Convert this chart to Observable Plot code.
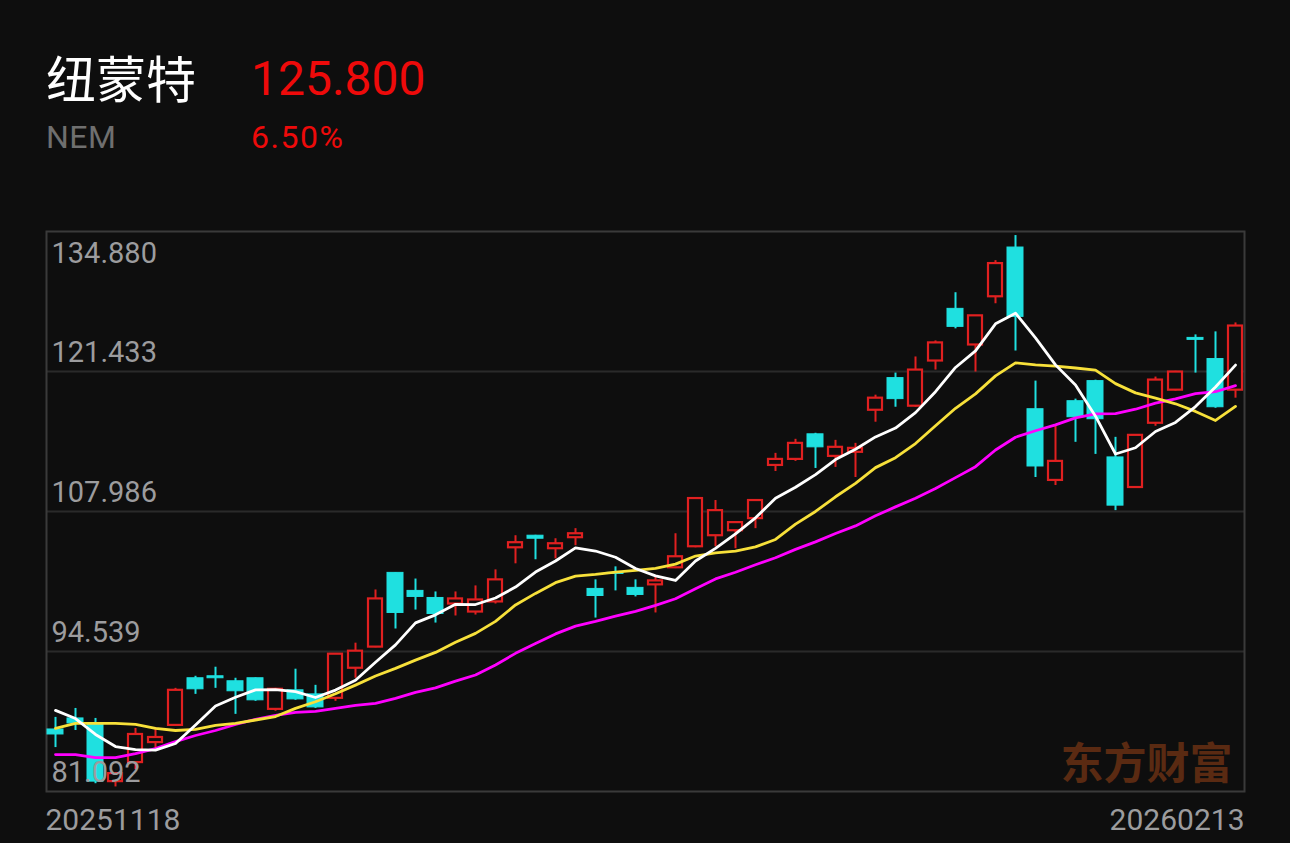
<!DOCTYPE html>
<html><head><meta charset="utf-8">
<script src="https://cdn.jsdelivr.net/npm/d3@7"></script>
<script src="https://cdn.jsdelivr.net/npm/@observablehq/plot@0.6"></script>
<style>
html,body{margin:0;padding:0;background:#0e0e0e;}
#wrap{position:relative;width:1290px;height:843px;overflow:hidden;background:#0e0e0e;font-family:Roboto,"Noto Sans",sans-serif;}
.abs{position:absolute;white-space:nowrap;line-height:1;}
#chart{position:absolute;left:0;top:0;}
</style></head><body>
<div id="wrap">
  <div class="abs" style="left:46px;top:51px;font-size:50px;color:#ffffff;font-family:'Noto Sans CJK SC',sans-serif;">纽蒙特</div>
  <div class="abs" style="left:251px;top:55px;font-size:48px;color:#ee0a0a;">125.800</div>
  <div class="abs" style="left:46px;top:121px;font-size:32px;color:#6f6f6f;letter-spacing:0.5px;">NEM</div>
  <div class="abs" style="left:251px;top:121px;font-size:32px;color:#ee0a0a;letter-spacing:1.5px;">6.50%</div>
  <div id="chart"></div>
</div>
<script>
const dates = ["20251118","20251119","20251120","20251121","20251124","20251125","20251126","20251128",
"20251201","20251202","20251203","20251204","20251205","20251208","20251209","20251210","20251211","20251212",
"20251215","20251216","20251217","20251218","20251219","20251222","20251223","20251224","20251226","20251229","20251230","20251231",
"20260102","20260105","20260106","20260107","20260108","20260109","20260112","20260113","20260114","20260115","20260116",
"20260120","20260121","20260122","20260123","20260126","20260127","20260128","20260129","20260130",
"20260202","20260203","20260204","20260205","20260206","20260209","20260210","20260211","20260212","20260213"];

const opens = [87.05,88.11,87.53,82.04,83.87,85.79,87.44,91.97,92.16,91.68,91.97,88.98,90.81,90.42,90.04,92.93,94.96,102.09,100.36,99.68,
99.10,98.33,99.30,104.50,105.66,104.41,105.47,100.55,102.09,100.65,100.94,102.58,104.60,105.66,106.14,107.30,112.41,112.99,115.40,113.28,
113.67,117.71,120.80,118.10,122.44,127.45,123.98,128.61,133.34,117.81,110.97,118.58,120.51,113.18,110.29,116.46,119.64,124.66,122.63,119.64];
const highs = [88.21,89.07,88.11,82.90,87.15,87.24,91.00,92.16,93.03,91.97,92.00,91.00,92.84,91.29,94.30,95.34,100.45,102.10,101.50,100.26,
100.26,100.84,102.38,105.66,105.70,105.37,106.34,101.42,102.67,101.42,101.71,105.85,109.30,109.04,107.00,109.10,113.57,114.92,115.50,114.82,
114.53,119.16,121.28,122.83,124.37,129.00,126.80,132.08,134.49,120.51,116.17,118.78,120.60,115.11,115.30,120.90,121.45,124.95,125.24,126.10];
const lows = [85.31,86.95,81.84,81.53,83.19,85.22,87.40,90.42,91.00,88.50,89.75,88.80,89.85,89.07,89.75,91.97,94.90,96.70,98.52,97.27,
97.95,98.04,99.10,102.96,103.35,103.44,104.70,97.75,100.36,99.78,98.24,102.50,104.50,104.60,104.41,106.34,111.83,112.80,112.12,112.22,
111.25,116.56,118.00,118.00,121.57,125.53,121.38,127.94,123.40,111.25,110.48,114.63,113.47,108.07,110.20,116.17,119.55,121.28,117.90,118.87];
const closes = [86.57,87.63,82.04,82.81,86.57,86.28,90.81,90.91,91.97,90.72,89.85,90.91,89.94,89.17,94.28,94.57,99.59,98.24,99.78,98.14,
99.59,99.49,101.42,104.99,105.37,104.89,105.85,99.87,101.99,99.97,101.32,103.64,109.23,108.07,106.92,109.04,112.99,114.53,114.15,114.15,
114.05,118.87,118.78,121.57,124.18,125.72,126.78,131.80,126.68,112.31,112.80,117.04,116.85,108.55,115.30,120.61,121.38,124.47,118.00,125.80];

const ma5 = [88.88,88.10,86.57,85.41,85.12,85.07,85.70,87.48,89.31,90.14,90.85,90.87,90.68,90.12,90.83,91.77,93.51,95.17,97.29,98.06,
99.07,99.05,99.68,100.73,102.17,103.23,104.50,104.19,103.59,102.51,101.80,101.36,103.23,104.45,105.84,107.38,109.25,110.31,111.53,112.97,
113.97,115.15,116.00,117.48,119.49,121.82,123.41,126.01,127.03,124.66,122.07,120.13,117.14,113.51,114.11,115.67,116.54,118.06,119.95,122.05];
const ma10 = [87.15,87.63,87.63,87.63,87.53,87.15,86.95,87.05,87.44,87.63,87.96,88.29,89.08,89.71,90.48,91.31,92.19,92.92,93.71,94.45,
95.42,96.28,97.43,99.01,100.12,101.15,101.78,101.94,102.16,102.34,102.52,102.93,103.71,104.02,104.18,104.59,105.30,106.77,107.99,109.40,
110.68,112.20,113.16,114.51,116.23,117.90,119.28,121.01,122.26,122.07,121.95,121.77,121.57,120.27,119.38,118.87,118.33,117.60,116.73,118.08];
const ma20 = [84.64,84.64,84.35,84.35,84.74,85.22,85.89,86.47,86.95,87.53,88.01,88.40,88.69,88.79,89.07,89.36,89.56,90.04,90.62,91.04,
91.69,92.28,93.25,94.36,95.30,96.23,96.98,97.43,97.93,98.40,98.97,99.61,100.57,101.51,102.15,102.87,103.54,104.35,105.07,105.87,
106.60,107.57,108.43,109.26,110.20,111.24,112.29,113.89,115.12,115.74,116.31,116.98,117.36,117.39,117.81,118.39,118.81,119.30,119.49,120.08];

const yTicks = [134.880, 121.433, 107.986, 94.539, 81.092];
const yTickLabels = ["134.880","121.433","107.986","94.539","81.092"];
const gridLines = [121.433, 107.986, 94.539];
const watermark = "东方财富";

const BG = "#0e0e0e", RED = "#e02020", CYAN = "#1fe0e0";

const data = dates.map((d, i) => ({
  i, date: d, open: opens[i], high: highs[i], low: lows[i], close: closes[i],
  ma5: ma5[i], ma10: ma10[i], ma20: ma20[i],
  up: closes[i] >= opens[i]
}));
const upData = data.filter(d => d.up);
const downData = data.filter(d => !d.up);

const chart = Plot.plot({
  width: 1290, height: 843,
  marginTop: 231, marginBottom: 52, marginLeft: 46, marginRight: 46,
  style: {background: "transparent", overflow: "visible"},
  x: {type: "band", domain: d3.range(dates.length), paddingInner: 0.2, paddingOuter: 0, axis: null},
  y: {domain: [yTicks[4], yTicks[0]], axis: null},
  color: {type: "identity"},
  marks: [
    Plot.ruleY(gridLines, {stroke: "#2a2a2a", strokeWidth: 2}),
    Plot.frame({stroke: "#3a3a3a", strokeWidth: 2}),
    Plot.text([watermark], {frameAnchor: "bottom-right", textAnchor: "end", lineAnchor: "bottom", dx: -12, dy: -13,
      fontSize: 43, fontWeight: "bold", fill: "#5a2a12", fontFamily: "'Noto Sans CJK SC', sans-serif"}),
    Plot.ruleX(data, {x: "i", y1: "low", y2: "high", stroke: d => d.up ? RED : CYAN, strokeWidth: 2}),
    Plot.barY(upData, {x: "i", y1: "open", y2: "close", fill: BG, stroke: RED, strokeWidth: 2.2, insetLeft: 1, insetRight: 1}),
    Plot.barY(downData, {x: "i", y1: "close", y2: "open", fill: CYAN, stroke: CYAN, strokeWidth: 1}),
    Plot.lineY(data, {x: "i", y: "ma20", stroke: "#ff00ff", strokeWidth: 2.8}),
    Plot.lineY(data, {x: "i", y: "ma10", stroke: "#f7e03a", strokeWidth: 2.8}),
    Plot.lineY(data, {x: "i", y: "ma5", stroke: "#ffffff", strokeWidth: 2.8}),
    Plot.text([yTicks[0]], {y: d => d, text: [yTickLabels[0]], frameAnchor: "left", textAnchor: "start", lineAnchor: "top",
      dx: 5, dy: 11, fontSize: 29, fill: "#9c9c9e", fontFamily: "Roboto, sans-serif"}),
    Plot.text(yTicks.slice(1), {y: d => d, text: yTickLabels.slice(1), frameAnchor: "left", textAnchor: "start", lineAnchor: "bottom",
      dx: 5, dy: -10, fontSize: 29, fill: "#9c9c9e", fontFamily: "Roboto, sans-serif"}),
    Plot.text([dates[0]], {frameAnchor: "bottom-left", textAnchor: "start", lineAnchor: "top", dx: -1, dy: 17,
      fontSize: 30, fill: "#9c9c9e", fontFamily: "Roboto, sans-serif"}),
    Plot.text([dates[dates.length - 1]], {frameAnchor: "bottom-right", textAnchor: "end", lineAnchor: "top", dx: 0, dy: 17,
      fontSize: 30, fill: "#9c9c9e", fontFamily: "Roboto, sans-serif"})
  ]
});
document.getElementById("chart").appendChild(chart);
</script>
</body></html>
